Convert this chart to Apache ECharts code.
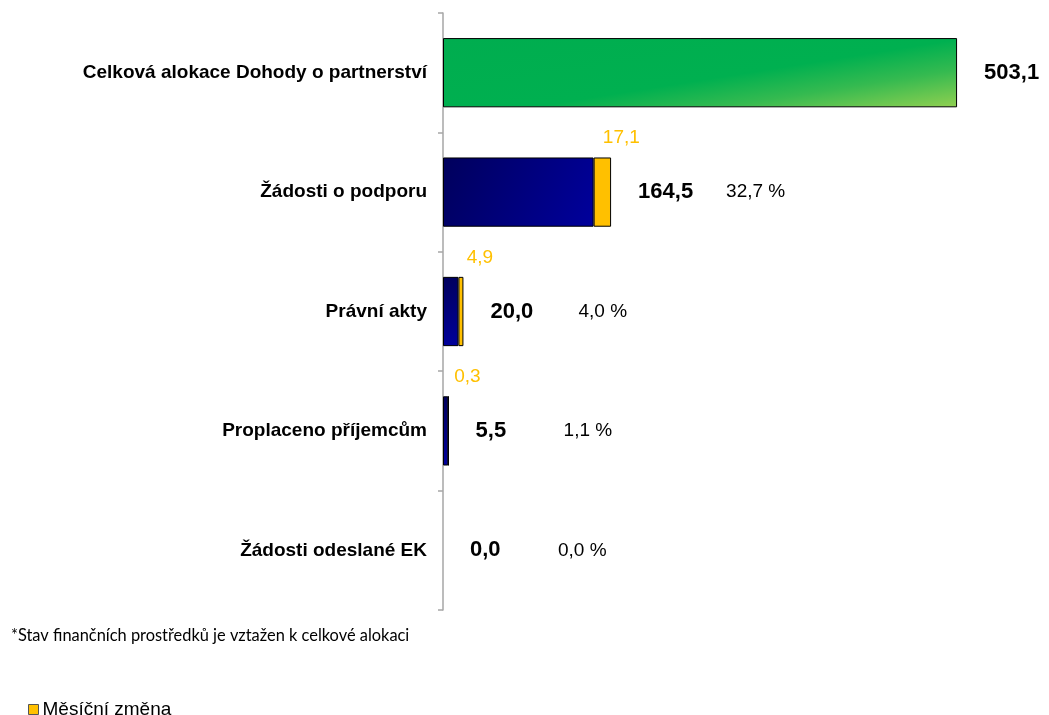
<!DOCTYPE html>
<html>
<head>
<meta charset="utf-8">
<script src="https://cdn.jsdelivr.net/npm/echarts@6/dist/echarts.min.js"></script>
<style>
html,body{margin:0;padding:0;background:#fff;}
#chart{width:1049px;height:715px;}
</style>
</head>
<body>
<div id="chart"></div>
<script>
const categories = ['Celková alokace Dohody o partnerství', 'Žádosti o podporu', 'Právní akty', 'Proplaceno příjemcům', 'Žádosti odeslané EK'];
const totals = [503.1, 164.5, 20.0, 5.5, 0.0];
const baseValues = [503.1, 147.4, 15.1, 5.2, 0.0];
const monthlyChange = [null, 17.1, 4.9, 0.3, null];
const sharePct = [null, 32.7, 4.0, 1.1, 0.0];
const legendName = 'Měsíční změna';
const footnote = '*Stav finančních prostředků je vztažen k celkové alokaci';

const fmt = v => v.toFixed(1).replace('.', ',');
const FONT = '"Liberation Sans", Arial, sans-serif';

const greenGrad = new echarts.graphic.LinearGradient(0, 0, 0.0456, 2.13, [
  {offset: 0, color: '#00AD4F'}, {offset: 0.55, color: '#00B050'}, {offset: 0.75, color: '#35BA50'}, {offset: 1, color: '#92D050'}
]);
const blueGrad = new echarts.graphic.LinearGradient(0, 0, 1, 1, [
  {offset: 0, color: '#00005C'}, {offset: 1, color: '#00009C'}
]);

const chart = echarts.init(document.getElementById('chart'), null, {renderer: 'canvas'});
const option = {
  animation: false,
  backgroundColor: '#ffffff',
  grid: {left: 443, top: 13, width: 562, bottom: 105, containLabel: false},
  xAxis: {type: 'value', min: 0, max: 550, show: false},
  yAxis: {
    type: 'category', data: categories, inverse: true,
    axisLine: {show: true, lineStyle: {color: '#A6A6A6', width: 1.5}},
    axisTick: {show: true, length: 5, lineStyle: {color: '#A6A6A6', width: 1.5}},
    axisLabel: {margin: 16, color: '#000', fontFamily: FONT, fontSize: 19, fontWeight: 'bold'},
    splitLine: {show: false}
  },
  legend: {
    data: [{name: legendName, itemStyle: {borderColor: '#555', borderWidth: 1}}],
    left: 23, top: 695, icon: 'rect', itemWidth: 10, itemHeight: 10, itemGap: 5,
    textStyle: {fontFamily: FONT, fontSize: 19, color: '#000', padding: [0, 0, 0, -1]}
  },
  graphic: [{
    type: 'text', left: 11, top: 628,
    style: {text: footnote, fontFamily: 'Lato, "Open Sans", sans-serif', fontSize: 16.4, fill: '#000'}
  }],
  series: [
    {
      name: 'base', type: 'bar', stack: 's', barWidth: '58%',
      data: baseValues.map((v, i) => ({
        value: v,
        itemStyle: {color: i === 0 ? greenGrad : blueGrad, borderWidth: v > 0 ? 1 : 0}
      })),
      itemStyle: {borderColor: '#000', borderWidth: 1},
      silent: true
    },
    {
      name: legendName, type: 'bar', stack: 's', barWidth: '58%',
      data: monthlyChange,
      itemStyle: {color: '#FFC000', borderColor: '#000', borderWidth: 1},
      label: {
        show: true, position: 'top', distance: 10, offset: [19, 0],
        color: '#FFC000', fontFamily: FONT, fontSize: 19,
        formatter: p => p.value == null ? '' : fmt(p.value)
      },
      silent: true
    },
    {
      name: 'total', type: 'bar', barWidth: '58%', barGap: '-100%',
      data: totals,
      itemStyle: {color: 'rgba(0,0,0,0)', borderWidth: 0},
      label: {
        show: true, position: 'right', distance: 27,
        formatter: p => {
          const pc = sharePct[p.dataIndex];
          return '{v|' + fmt(p.value) + '}' + (pc == null ? '' : '{p|' + fmt(pc) + ' %}');
        },
        rich: {
          v: {fontFamily: FONT, fontSize: 22, fontWeight: 'bold', color: '#000', width: 88},
          p: {fontFamily: FONT, fontSize: 19, color: '#000'}
        }
      },
      silent: true
    }
  ]
};
chart.setOption(option);
</script>
</body>
</html>
